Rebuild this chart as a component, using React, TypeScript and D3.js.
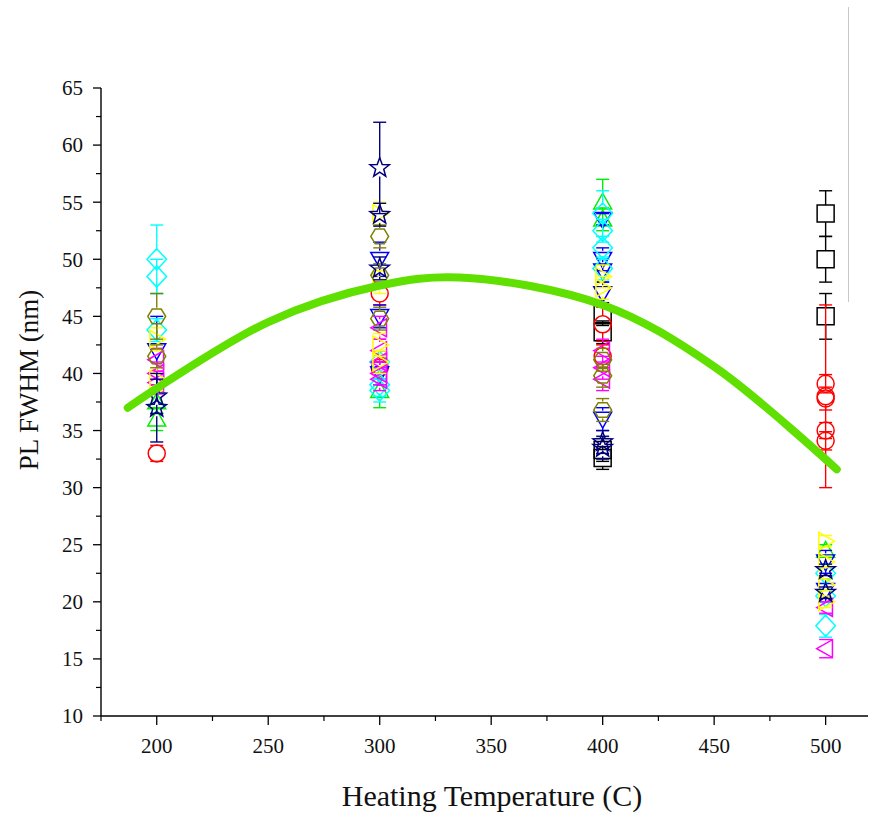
import React from "react";
import * as d3 from "d3";

// ---------- data (temperature, FWHM value, error) ----------
const blackSquares: [number, number, number][] = [
  [400, 45.2, 1], [400, 43.6, 1], [400, 33.3, 1], [400, 32.6, 1],
  [500, 54, 2], [500, 50, 2], [500, 45, 2],
];
const redCircles: [number, number, number][] = [
  [200, 33, 0.7], [300, 47, 1], [300, 40.5, 1], [400, 44.3, 1.5], [400, 41.5, 1],
  [500, 39.1, 0.8], [500, 37.8, 1], [500, 38, 8], [500, 35, 0.7], [500, 34.1, 0.8],
];
const greenUpTriangles: [number, number, number][] = [
  [200, 37.5, 1], [200, 36, 1], [300, 38.5, 1.5], [400, 55, 2], [400, 53.5, 1],
  [500, 24.5, 0.5],
];
const blueDownTriangles: [number, number, number][] = [
  [200, 42, 3], [300, 50, 1.5], [300, 45, 1], [300, 40, 1],
  [400, 53.5, 0.5], [400, 50, 1], [400, 49, 1], [400, 47, 1], [400, 36, 1],
  [500, 23.5, 1], [500, 21, 1],
];
const cyanDiamonds: [number, number, number][] = [
  [200, 50, 3], [200, 48.5, 1.5], [200, 43.8, 1],
  [300, 41, 1], [300, 39, 1], [300, 38.5, 1],
  [400, 54, 2], [400, 52.5, 1], [400, 51, 1], [400, 49.2, 1],
  [500, 22.5, 0.5], [500, 20.5, 0.5], [500, 17.9, 1],
];
const magentaLeftTriangles: [number, number, number][] = [
  [200, 41.2, 1], [200, 40, 1], [200, 39.2, 1],
  [300, 44, 1], [300, 42, 1], [300, 41, 1], [300, 40, 1], [300, 39.5, 1],
  [400, 42, 1], [400, 40.5, 1], [400, 39.5, 1],
  [500, 19.5, 0.5], [500, 15.9, 0.8],
];
const yellowRightTriangles: [number, number, number][] = [
  [200, 43, 1], [200, 39.5, 1],
  [300, 54, 1], [300, 48, 1], [300, 42.5, 1], [300, 41, 1],
  [400, 48.5, 1], [400, 47.5, 1],
  [500, 25.3, 0.5], [500, 23.5, 0.5], [500, 21.5, 0.5], [500, 20, 0.5],
];
const oliveHexagons: [number, number, number][] = [
  [200, 45, 2], [200, 41.5, 1],
  [300, 52, 1], [300, 48.6, 1], [300, 44.8, 1],
  [400, 41.2, 1], [400, 39.8, 1], [400, 36.8, 1],
];
const navyStars: [number, number, number][] = [
  [200, 38, 1.5], [200, 37, 3],
  [300, 58, 4], [300, 53.9, 1], [300, 49.2, 1],
  [400, 34, 1], [400, 33.5, 1],
  [500, 22.8, 0.5], [500, 20.8, 0.5],
];

// fitted trend curve
const fitTemps = [187, 250, 300, 336, 400, 450, 505];
const fitValues = [37.0, 44.5, 47.7, 48.4, 46.0, 40.6, 31.6];

const xMajorTicks = [200, 250, 300, 350, 400, 450, 500];
const xMinorTicks = [175, 225, 275, 325, 375, 425, 475];
const yMajorTicks = [10, 15, 20, 25, 30, 35, 40, 45, 50, 55, 60, 65];
const yMinorTicks = [12.5, 17.5, 22.5, 27.5, 32.5, 37.5, 42.5, 47.5, 52.5, 57.5, 62.5];

type Shape = "square" | "circle" | "up" | "down" | "diamond" | "left" | "right" | "hexagon" | "star";

const seriesList: { data: [number, number, number][]; color: string; shape: Shape }[] = [
  { data: blackSquares, color: "#000000", shape: "square" },
  { data: redCircles, color: "#ff0000", shape: "circle" },
  { data: greenUpTriangles, color: "#00ee00", shape: "up" },
  { data: blueDownTriangles, color: "#0000ff", shape: "down" },
  { data: cyanDiamonds, color: "#00ffff", shape: "diamond" },
  { data: magentaLeftTriangles, color: "#ff00ff", shape: "left" },
  { data: yellowRightTriangles, color: "#ffff00", shape: "right" },
  { data: oliveHexagons, color: "#808000", shape: "hexagon" },
  { data: navyStars, color: "#000080", shape: "star" },
];

function poly(pts: [number, number][]) {
  return "M" + pts.map((p) => p[0].toFixed(2) + "," + p[1].toFixed(2)).join("L") + "Z";
}

function shapePath(shape: Shape, r: number): string {
  switch (shape) {
    case "square":
      return poly([[-r, -r], [r, -r], [r, r], [-r, r]]);
    case "circle":
      return `M${-r},0A${r},${r} 0 1,0 ${r},0A${r},${r} 0 1,0 ${-r},0Z`;
    case "up":
      return poly([[0, -r * 1.05], [r * 1.05, r * 0.8], [-r * 1.05, r * 0.8]]);
    case "down":
      return poly([[0, r * 1.05], [r * 1.05, -r * 0.8], [-r * 1.05, -r * 0.8]]);
    case "left":
      return poly([[-r * 1.05, 0], [r * 0.8, -r * 1.05], [r * 0.8, r * 1.05]]);
    case "right":
      return poly([[r * 1.05, 0], [-r * 0.8, -r * 1.05], [-r * 0.8, r * 1.05]]);
    case "diamond":
      return poly([[0, -r * 1.25], [r * 1.15, 0], [0, r * 1.25], [-r * 1.15, 0]]);
    case "hexagon": {
      const pts: [number, number][] = [];
      for (let i = 0; i < 6; i++) {
        const a = (Math.PI / 3) * i;
        pts.push([Math.cos(a) * r * 1.05, Math.sin(a) * r * 1.0]);
      }
      return poly(pts);
    }
    case "star": {
      const pts: [number, number][] = [];
      for (let i = 0; i < 10; i++) {
        const a = -Math.PI / 2 + (Math.PI / 5) * i;
        const rr = i % 2 === 0 ? r * 1.2 : r * 0.5;
        pts.push([Math.cos(a) * rr, Math.sin(a) * rr]);
      }
      return poly(pts);
    }
  }
  return "";
}

export default function App() {
  const x = d3.scaleLinear().domain([175, 519]).range([101, 868]);
  const y = d3.scaleLinear().domain([10, 65]).range([716, 88]);

  const fitLine = d3
    .line<number>()
    .x((d, i) => x(fitTemps[i]))
    .y((d) => y(d))
    .curve(d3.curveCatmullRom.alpha(0.5))(fitValues) as string;

  const serif = "'Liberation Serif', 'DejaVu Serif', serif";
  const capW = 6.5;
  const r = 8.5;

  return (
    <svg
      width={872}
      height={814}
      style={{ position: "absolute", left: 0, top: 0, background: "#fff" }}
    >
      <rect x={0} y={0} width={872} height={814} fill="#fff" />
      <line x1={848.5} x2={848.5} y1={7} y2={302} stroke="#c8c8c8" strokeWidth={1} />

      {/* series */}
      {seriesList.map((s, si) => (
        <g key={si}>
          {s.data.map((d, i) => {
            const cx = x(d[0]);
            const cy = y(d[1]);
            const top = y(d[1] + d[2]);
            const bot = y(d[1] - d[2]);
            return (
              <g key={"e" + i} stroke={s.color} strokeWidth={1.4}>
                {cy - r > top && <line x1={cx} x2={cx} y1={top} y2={cy - r} />}
                {bot > cy + r && <line x1={cx} x2={cx} y1={cy + r} y2={bot} />}
                <line x1={cx - capW} x2={cx + capW} y1={top} y2={top} />
                <line x1={cx - capW} x2={cx + capW} y1={bot} y2={bot} />
              </g>
            );
          })}
          {s.data.map((d, i) => (
            <path
              key={"m" + i}
              d={shapePath(s.shape, r)}
              transform={`translate(${x(d[0])},${y(d[1])})`}
              fill="none"
              stroke={s.color}
              strokeWidth={1.5}
            />
          ))}
        </g>
      ))}

      {/* fit curve */}
      <path d={fitLine} fill="none" stroke="#5fe000" strokeWidth={8} strokeLinecap="round" />

      {/* axes */}
      <line x1={101} x2={101} y1={y(65)} y2={y(10)} stroke="#000" strokeWidth={1.4} />
      <line x1={101} x2={868} y1={716} y2={716} stroke="#000" strokeWidth={1.4} />
      {yMajorTicks.map((t) => (
        <g key={"ym" + t}>
          <line x1={93} x2={101} y1={y(t)} y2={y(t)} stroke="#000" strokeWidth={1.3} />
          <text
            x={83}
            y={y(t)}
            dy="0.35em"
            textAnchor="end"
            fontFamily={serif}
            fontSize={21}
            fill="#111"
          >
            {t}
          </text>
        </g>
      ))}
      {yMinorTicks.map((t) => (
        <line key={"yn" + t} x1={96} x2={101} y1={y(t)} y2={y(t)} stroke="#000" strokeWidth={1.2} />
      ))}
      {xMajorTicks.map((t) => (
        <g key={"xm" + t}>
          <line x1={x(t)} x2={x(t)} y1={716} y2={725} stroke="#000" strokeWidth={1.3} />
          <text
            x={x(t)}
            y={753}
            textAnchor="middle"
            fontFamily={serif}
            fontSize={21}
            fill="#111"
          >
            {t}
          </text>
        </g>
      ))}
      {xMinorTicks.map((t) => (
        <line key={"xn" + t} x1={x(t)} x2={x(t)} y1={716} y2={721} stroke="#000" strokeWidth={1.2} />
      ))}

      <text
        x={492}
        y={806}
        textAnchor="middle"
        fontFamily={serif}
        fontSize={30}
        fill="#111"
      >
        Heating Temperature (C)
      </text>
      <text
        transform={`translate(38,380) rotate(-90)`}
        textAnchor="middle"
        fontFamily={serif}
        fontSize={27}
        fill="#111"
      >
        PL FWHM (nm)
      </text>
    </svg>
  );
}
